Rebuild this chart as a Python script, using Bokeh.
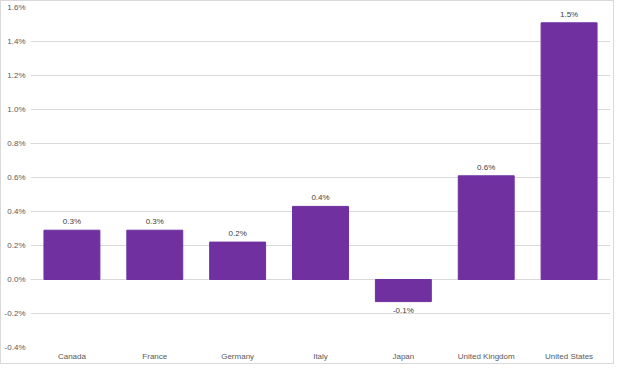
from bokeh.plotting import figure
from bokeh.models import ColumnDataSource, LabelSet, FactorRange, PrintfTickFormatter, FixedTicker
from bokeh.core.properties import value
from bokeh.embed import file_html
from bokeh.resources import INLINE

countries = ["Canada", "France", "Germany", "Italy", "Japan", "United Kingdom", "United States"]
values = [0.29, 0.29, 0.22, 0.43, -0.13, 0.61, 1.51]
labels = ["0.3%", "0.3%", "0.2%", "0.4%", "-0.1%", "0.6%", "1.5%"]
y_ticks = [-0.4, -0.2, 0.0, 0.2, 0.4, 0.6, 0.8, 1.0, 1.2, 1.4, 1.6]

FONT = "Liberation Sans"
TXT = "#595959"

src = ColumnDataSource(dict(
    x=countries, top=values, label=labels,
    off=[4 if v >= 0 else -4 for v in values],
    base=["bottom" if v >= 0 else "top" for v in values],
))

p = figure(x_range=FactorRange(*countries, range_padding=0), y_range=(-0.4, 1.6),
           frame_width=580, frame_height=340, output_backend="svg", toolbar_location=None,
           min_border_left=0, min_border_right=3, min_border_top=6, min_border_bottom=3)
p.styles = {"border": "1px solid #d9d9d9"}
p.vbar(x="x", top="top", bottom=0, width=0.675, source=src, color="#7030a0")

lab = LabelSet(x="x", y="top", text="label", y_offset="off", text_baseline="base",
               text_align="center", source=src, text_font=value(FONT), text_font_size="8px",
               text_color="#404040")
p.add_layout(lab)

p.outline_line_color = None
p.xgrid.grid_line_color = None
p.ygrid.grid_line_color = "#d9d9d9"
p.ygrid.grid_line_width = 1
p.yaxis.ticker = FixedTicker(ticks=y_ticks)
p.yaxis.formatter = PrintfTickFormatter(format="%.1f%%")
for ax in (p.xaxis, p.yaxis):
    ax.axis_line_color = None
    ax.major_tick_line_color = None
    ax.minor_tick_line_color = None
    ax.major_tick_out = 0
    ax.major_tick_in = 0
    ax.minor_tick_out = 0
    ax.minor_tick_in = 0
    ax.axis_label_standoff = 0
    ax.major_label_text_font = FONT
    ax.major_label_text_font_size = "8px"
    ax.major_label_text_color = TXT
p.yaxis.major_label_standoff = 5
p.xaxis.major_label_standoff = 4

open("out.html", "w").write(file_html(p, INLINE))
